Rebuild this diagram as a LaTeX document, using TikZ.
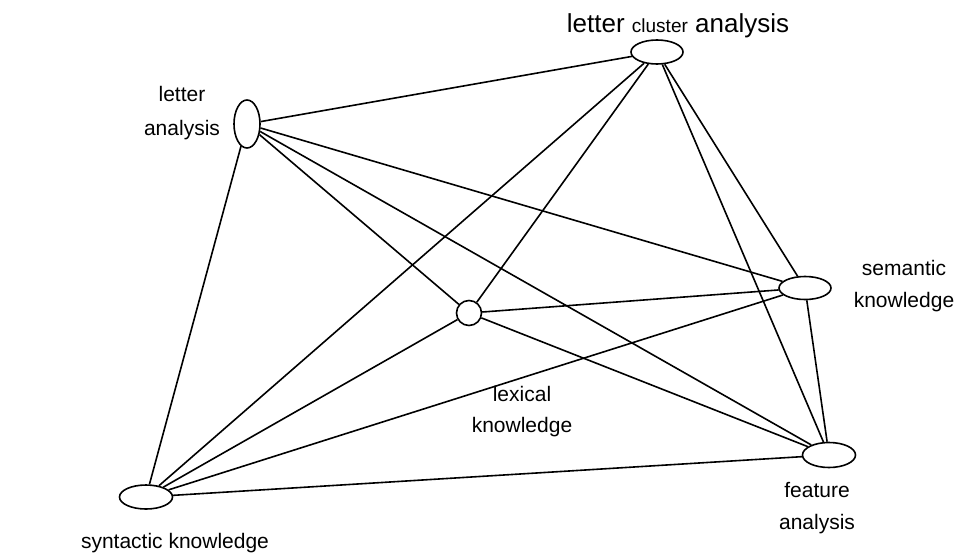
\documentclass[tikz,border=0pt]{standalone}
\usepackage{fontspec}
\setmainfont{Liberation Sans}
\usetikzlibrary{shapes.geometric}
\begin{document}
\begin{tikzpicture}[x=1pt,y=-1pt,
  vert/.style={draw, ellipse, line width=1.6pt, inner sep=0pt},
  link/.style={line width=1.6pt},
  lbl/.style={align=center, inner sep=0pt, font=\fontsize{21}{32}\selectfont}]
\useasboundingbox (0,0) rectangle (966,557);

% vertices
\node[vert, minimum width=52pt, minimum height=24pt] (LC) at (657,52) {};
\node[vert, minimum width=26pt, minimum height=48pt] (LA) at (247,124) {};
\node[vert, minimum width=52pt, minimum height=23pt] (SE) at (805,288) {};
\node[vert, minimum width=25pt, minimum height=25pt] (LX) at (469,313) {};
\node[vert, minimum width=53pt, minimum height=25pt] (FE) at (829,455) {};
\node[vert, minimum width=53pt, minimum height=24pt] (SY) at (146,497) {};

% labels
\node[lbl, font=\fontsize{26}{30}\selectfont] (tLC) at (678,26)
  {letter {\fontsize{19}{20}\selectfont cluster} analysis};
\node[lbl, font=\fontsize{21}{34}\selectfont] (tLA) at (182,113) {letter\\analysis};
\node[lbl] (tSE) at (904,286) {semantic\\knowledge};
\node[lbl, font=\fontsize{21}{31}\selectfont] (tLX) at (522,412) {lexical\\knowledge};
\node[lbl] (tFE) at (817,508) {feature\\analysis};
\node[lbl] (tSY) at (175,543) {syntactic knowledge};

% every pair of vertices is joined
\draw[link] (LA) -- (LC);
\draw[link] (LA) -- (SY);
\draw[link] (LA) -- (LX);
\draw[link] (LA) -- (SE);
\draw[link] (LA) -- (FE);
\draw[link] (LC) -- (SY);
\draw[link] (LC) -- (LX);
\draw[link] (LC) -- (SE);
\draw[link] (LC) -- (FE);
\draw[link] (LX) -- (SE);
\draw[link] (LX) -- (SY);
\draw[link] (LX) -- (FE);
\draw[link] (SE) -- (SY);
\draw[link] (SE) -- (FE);
\draw[link] (SY) -- (FE);
\end{tikzpicture}
\end{document}
